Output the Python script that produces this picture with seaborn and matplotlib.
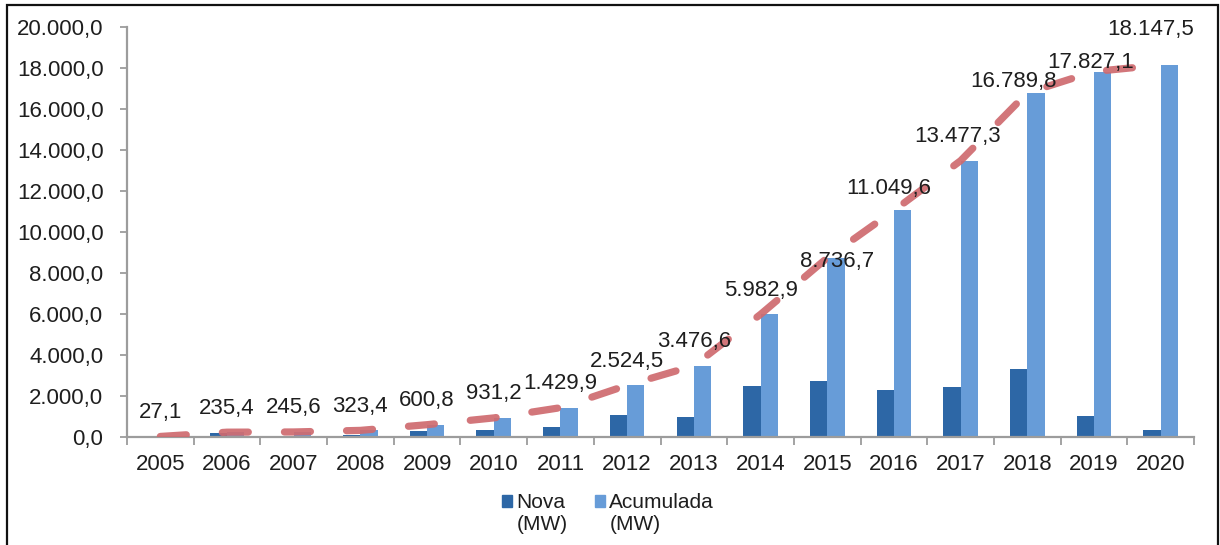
import matplotlib
matplotlib.use("Agg")
import matplotlib.pyplot as plt
import seaborn as sns
import pandas as pd
import numpy as np
from matplotlib.patches import Rectangle
from matplotlib.legend_handler import HandlerPatch

# Capacidade instalada por ano (MW)
anos = ["2005", "2006", "2007", "2008", "2009", "2010", "2011", "2012",
        "2013", "2014", "2015", "2016", "2017", "2018", "2019", "2020"]
nova = [27.1, 208.3, 10.2, 77.8, 277.4, 330.4, 498.7, 1094.6,
        952.1, 2506.3, 2753.8, 2312.9, 2427.7, 3312.5, 1037.3, 320.4]
acumulada = [27.1, 235.4, 245.6, 323.4, 600.8, 931.2, 1429.9, 2524.5,
             3476.6, 5982.9, 8736.7, 11049.6, 13477.3, 16789.8, 17827.1, 18147.5]
series = ["Nova\n(MW)", "Acumulada\n(MW)"]
yticks = [0, 2000, 4000, 6000, 8000, 10000, 12000, 14000, 16000, 18000, 20000]

COR_NOVA = "#2d67a6"
COR_ACUM = "#679cd8"
COR_LINHA = "#cf6a6f"
COR_TEXTO = "#1e1e1e"
COR_EIXO = "#9c9c9c"


def fmt_br(v):
    s = f"{v:,.1f}"
    return s.replace(",", "X").replace(".", ",").replace("X", ".")


sns.set_theme(style="white")
plt.rcParams["font.family"] = ["Liberation Sans", "DejaVu Sans"]

fig = plt.figure(figsize=(12.2, 5.45), dpi=100)
ax = fig.add_axes([127 / 1220, 1 - 437 / 545, (1194 - 127) / 1220, (437 - 27) / 545])

df = pd.DataFrame({
    "Ano": anos * 2,
    "Valor": nova + acumulada,
    "Série": [series[0]] * len(anos) + [series[1]] * len(anos),
})
sns.barplot(data=df, x="Ano", y="Valor", hue="Série", hue_order=series,
            palette=[COR_NOVA, COR_ACUM], saturation=1, width=0.52,
            ax=ax, legend=False, edgecolor="none")

# linha tracejada da capacidade acumulada
pos = np.arange(len(anos))
sns.lineplot(x=pos, y=acumulada, ax=ax, color=COR_LINHA, linewidth=5.2,
             alpha=0.92, zorder=3)
linha = ax.lines[-1]
linha.set_linestyle((0, (3.6, 5.0)))
linha.set_dash_capstyle("round")

# rótulos de valor (deslocamento em pixels)
ajustes = {10: (10, -4), 11: (-5, 22), 12: (-3, 24), 13: (-14, 11),
           14: (-3, 9), 15: (-10, 35)}
for i, v in enumerate(acumulada):
    dx, dy = ajustes.get(i, (0, 24))
    ax.annotate(fmt_br(v), (i, v), xytext=(dx, dy), textcoords="offset pixels",
                ha="center", va="center", fontsize=16, color=COR_TEXTO, zorder=4)

ax.set_xlim(-0.5, len(anos) - 0.5)
ax.set_ylim(0, 20000)
ax.set_yticks(yticks)
ax.set_yticklabels([fmt_br(t) for t in yticks])
ax.set_xlabel("")
ax.set_ylabel("")

# marcas do eixo x entre as categorias
ax.set_xticks(np.arange(-0.5, len(anos)), minor=True)
ax.tick_params(axis="x", which="major", length=0, pad=12, labelsize=16,
               labelcolor=COR_TEXTO)
ax.tick_params(axis="x", which="minor", length=6, width=1.3, color=COR_EIXO,
               direction="out", bottom=True)
ax.tick_params(axis="y", length=5, width=1.3, color=COR_EIXO, direction="out",
               pad=12, labelsize=16, labelcolor=COR_TEXTO, left=True)

for s in ["top", "right"]:
    ax.spines[s].set_visible(False)
for s in ["left", "bottom"]:
    ax.spines[s].set_color(COR_EIXO)
    ax.spines[s].set_linewidth(1.6)
ax.grid(False)


# legenda: quadrado alinhado com a primeira linha do texto
def quadrado(legend, orig_handle, xdescent, ydescent, width, height, fontsize):
    return Rectangle((-xdescent, -ydescent + fontsize * 0.62), width, height)


handles = [Rectangle((0, 0), 1, 1, color=COR_NOVA),
           Rectangle((0, 0), 1, 1, color=COR_ACUM)]
fig.legend(handles, series, loc="center", bbox_to_anchor=(608 / 1220, 1 - 514 / 545),
           ncol=2, frameon=False, fontsize=15, handlelength=0.5, handleheight=0.5,
           handletextpad=0.2, columnspacing=1.3,
           handler_map={Rectangle: HandlerPatch(patch_func=quadrado)},
           labelcolor=COR_TEXTO)

# moldura da figura
fig.patches.append(Rectangle((7 / 1220, -0.02), (1218 - 7) / 1220, 1 - 5 / 545 + 0.02,
                             transform=fig.transFigure, fill=False,
                             edgecolor="#111111", linewidth=1.6))

fig.savefig("out.png", dpi=100, facecolor="white")
